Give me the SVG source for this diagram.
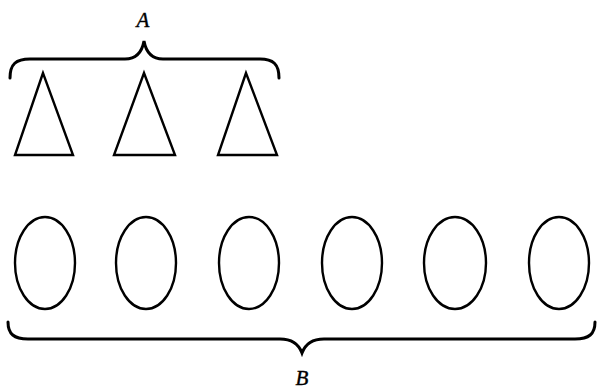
<svg xmlns="http://www.w3.org/2000/svg" width="599" height="390" viewBox="0 0 599 390">
<style>
.s{fill:none;stroke:#000;stroke-width:2.4;stroke-linejoin:miter}
.b{fill:none;stroke:#000;stroke-width:3;stroke-linecap:round}
.t{font-family:"Liberation Serif",serif;font-style:italic;font-size:21px;fill:#000;stroke:#000;stroke-width:0.4;text-anchor:middle}
</style>
<rect width="599" height="390" fill="#fff"/>
<g id="connectors">
<path class="b" d="M10,78 C10,64 16,59 30,59 L125,59 C136,59 142,52 144,41 C146,52 152,59 163,59 L260,59 C273,59 279,64 279,78"/>
<path class="b" d="M8,322 C8,334 14,339 28,339 L280,339 C292,339 299,345 302,353 C305,345 312,339 324,339 L575,339 C589,339 595,334 595,322"/>
</g>
<g id="A"><text class="t" x="143" y="27">A</text></g>
<g id="B"><text class="t" x="302" y="385">B</text></g>
<g id="tri1"><polygon class="s" points="43,73 15,155 73,155"/></g>
<g id="tri2"><polygon class="s" points="144,73 114,155 175,155"/></g>
<g id="tri3"><polygon class="s" points="246,73 218,155 277,155"/></g>
<g id="e1"><ellipse class="s" cx="45" cy="263" rx="30" ry="46"/></g>
<g id="e2"><ellipse class="s" cx="146" cy="263" rx="30" ry="46"/></g>
<g id="e3"><ellipse class="s" cx="249" cy="263" rx="30" ry="46"/></g>
<g id="e4"><ellipse class="s" cx="352" cy="263" rx="30" ry="46"/></g>
<g id="e5"><ellipse class="s" cx="455" cy="263" rx="31" ry="46"/></g>
<g id="e6"><ellipse class="s" cx="559" cy="263" rx="30" ry="46"/></g>
</svg>
